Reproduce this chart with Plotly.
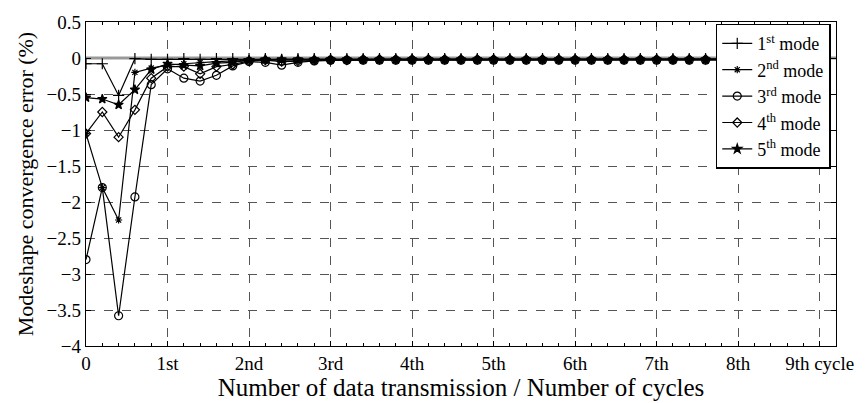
import plotly.graph_objects as go

# Transmission steps: five per cycle, so x is measured in cycles (step * 0.2)
steps = list(range(46))
cycles = [s / 5 for s in steps]

mode1 = [-0.08, -0.08, -0.52, -0.01, -0.02, -0.02, -0.01, -0.02, -0.01, -0.01,
         -0.01, -0.01, -0.02, -0.01, -0.01, -0.01, -0.01, -0.01, -0.01, -0.01,
         -0.01, -0.01, -0.01, -0.01, -0.01, -0.01, -0.01, -0.01, -0.01, -0.01,
         -0.01, -0.01, -0.01, -0.01, -0.01, -0.01, -0.01, -0.01, -0.01, -0.01,
         -0.01, -0.01, -0.01, -0.01, -0.01, -0.01]
mode2 = [-1.05, -1.80, -2.25, -0.20, -0.14, -0.10, -0.08, -0.06, -0.05, -0.04,
         -0.03, -0.03, -0.03, -0.03, -0.03, -0.02, -0.02, -0.02, -0.02, -0.02,
         -0.02, -0.02, -0.02, -0.02, -0.02, -0.02, -0.02, -0.02, -0.02, -0.02,
         -0.02, -0.02, -0.02, -0.02, -0.02, -0.02, -0.02, -0.02, -0.02, -0.02,
         -0.02, -0.02, -0.02, -0.02, -0.02, -0.02]
mode3 = [-2.80, -1.80, -3.58, -1.93, -0.37, -0.15, -0.28, -0.32, -0.24, -0.11,
         -0.05, -0.06, -0.10, -0.06, -0.04, -0.03, -0.03, -0.03, -0.03, -0.03,
         -0.03, -0.03, -0.03, -0.03, -0.03, -0.03, -0.03, -0.03, -0.03, -0.03,
         -0.03, -0.03, -0.03, -0.03, -0.03, -0.03, -0.03, -0.03, -0.03, -0.03,
         -0.03, -0.03, -0.03, -0.03, -0.03, -0.03]
mode4 = [-1.05, -0.75, -1.10, -0.72, -0.28, -0.12, -0.12, -0.22, -0.12, -0.09,
         -0.04, -0.03, -0.05, -0.04, -0.03, -0.03, -0.03, -0.02, -0.02, -0.02,
         -0.02, -0.02, -0.02, -0.02, -0.02, -0.02, -0.02, -0.02, -0.02, -0.02,
         -0.02, -0.02, -0.02, -0.02, -0.02, -0.02, -0.02, -0.02, -0.02, -0.02,
         -0.02, -0.02, -0.02, -0.02, -0.02, -0.02]
mode5 = [-0.55, -0.57, -0.65, -0.44, -0.16, -0.08, -0.10, -0.11, -0.07, -0.06,
         -0.03, -0.02, -0.02, -0.02, -0.02, -0.02, -0.02, -0.02, -0.02, -0.02,
         -0.02, -0.02, -0.02, -0.02, -0.02, -0.02, -0.02, -0.02, -0.02, -0.02,
         -0.02, -0.02, -0.02, -0.02, -0.02, -0.02, -0.02, -0.02, -0.02, -0.02,
         -0.02, -0.02, -0.02, -0.02, -0.02, -0.02]

series_names = ["1<sup>st</sup> mode", "2<sup>nd</sup> mode", "3<sup>rd</sup> mode",
                "4<sup>th</sup> mode", "5<sup>th</sup> mode"]
series_values = [mode1, mode2, mode3, mode4, mode5]
series_symbols = ["cross-thin", "asterisk", "circle-open", "diamond-open", "star"]
series_sizes = [8, 6, 8, 7, 7]

tick_positions = list(range(10))
tick_labels = ["0", "1st", "2nd", "3rd", "4th", "5th", "6th", "7th", "8th", "9th cycle"]

x_range = [0, 9.2]
y_range = [-4, 0.5]

FONT = "Liberation Serif"

fig = go.Figure()

# zero-error reference line
fig.add_trace(go.Scatter(
    x=x_range, y=[0, 0], mode="lines",
    line=dict(color="#999999", width=3),
    showlegend=False, hoverinfo="skip",
))

for name, vals, sym, size in zip(series_names, series_values, series_symbols, series_sizes):
    fig.add_trace(go.Scatter(
        x=cycles, y=vals, name=name, mode="lines+markers",
        line=dict(color="black", width=1.2),
        marker=dict(symbol=sym, size=size, color="black",
                    line=dict(color="black", width=1.2)),
    ))

axis_common = dict(
    showline=True, linecolor="black", linewidth=1.3, mirror="allticks",
    ticks="inside", ticklen=5, tickcolor="black",
    showgrid=True, gridcolor="#555555", griddash="dash", gridwidth=1,
    zeroline=False,
    tickfont=dict(family=FONT, size=19, color="black"),
)

fig.update_xaxes(
    range=x_range, tickvals=tick_positions, ticktext=tick_labels,
    minor=dict(dtick=0.2, ticks="inside", ticklen=3, tickcolor="black", showgrid=False),
    title=dict(text="Number of data transmission / Number of cycles",
               font=dict(family=FONT, size=25, color="black"), standoff=0),
    **axis_common,
)
fig.update_yaxes(
    range=y_range, dtick=0.5, ticklabelstandoff=0,
    title=dict(text="Modeshape convergence error (%)",
               font=dict(family=FONT, size=22, color="black"), standoff=6),
    **axis_common,
)

fig.update_layout(
    width=866, height=403,
    margin=dict(l=86, r=24, t=18, b=54),
    paper_bgcolor="white", plot_bgcolor="white",
    font=dict(family=FONT, color="black"),
    legend=dict(
        x=0.993, y=0.995, xanchor="right", yanchor="top",
        bgcolor="white", bordercolor="black", borderwidth=1.5,
        font=dict(family=FONT, size=18, color="black"),
        itemwidth=30, tracegroupgap=0,
    ),
)

fig.write_html("out.html")
